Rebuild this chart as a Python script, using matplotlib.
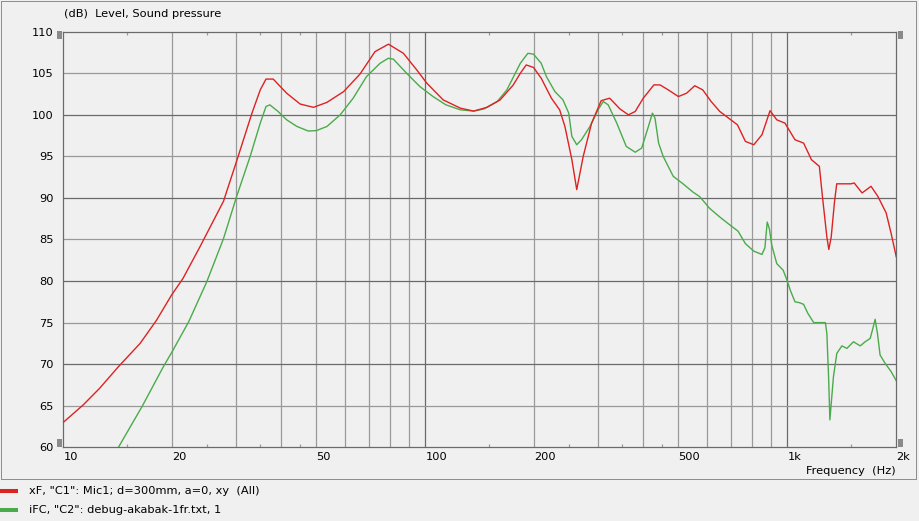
import matplotlib
matplotlib.use("Agg")
import matplotlib.pyplot as plt
from matplotlib.patches import Rectangle
from matplotlib.lines import Line2D
from matplotlib.ticker import FixedLocator, NullFormatter

# ---------------- data ----------------
freq_red = [10, 11.35, 12.6, 14.2, 16.3, 18.1, 19.9, 21.4, 23.9, 27.7, 30.1, 33.2, 35.0,
            36.3, 38.0, 41.4, 45.1, 49.1, 53.5, 59.5, 66, 72.6, 79.1, 87, 94.7, 101, 112, 125,
            136, 148, 161, 175, 183, 190, 199, 209, 223, 235, 243, 254, 262, 273, 288, 306,
            323, 345, 364, 380, 400, 428, 445, 469, 500, 527, 555, 584, 616, 651, 728, 766,
            808, 851, 896, 935, 985, 1050, 1109, 1166, 1226, 1250, 1286, 1302, 1322, 1349,
            1369, 1500, 1530, 1609, 1703, 1778, 1875, 1936, 2000]
db_red = [63.0, 65.1, 67.1, 69.7, 72.5, 75.3, 78.3, 80.3, 84.2, 89.6, 94.4, 100.2, 103.0,
          104.3, 104.3, 102.6, 101.3, 100.9, 101.5, 102.8, 104.9, 107.6, 108.5, 107.4, 105.4,
          103.8, 101.8, 100.8, 100.45, 100.9, 101.8, 103.6, 105.0, 106.0, 105.7, 104.4, 102.0,
          100.6, 98.6, 94.6, 91.0, 95.0, 99.0, 101.7, 102.0, 100.7, 100.0, 100.4, 102.0, 103.6,
          103.6, 103.0, 102.2, 102.6, 103.5, 103.0, 101.6, 100.4, 98.8, 96.8, 96.4, 97.6, 100.5,
          99.4, 99.0, 97.0, 96.6, 94.6, 93.8, 90.2, 85.3, 83.8, 85.3, 89.4, 91.7, 91.7, 91.8,
          90.6, 91.4, 90.2, 88.2, 85.7, 82.9]

freq_green = [14.2, 16.5, 18.9, 20.1, 22.2, 24.9, 27.7, 30.1, 32.8, 35.0, 36.3, 37.2, 39.2,
              41.4, 44.2, 47.5, 50, 53.5, 58.2, 63.2, 68.8, 75, 79, 81.6, 88.8, 96.6, 105, 114,
              125, 136, 145, 158, 168, 183, 192, 199, 209, 216, 228, 240, 249, 254, 262, 270,
              285, 300, 310, 320, 338, 359, 380, 396, 412, 424, 431, 441, 454, 484, 515, 549,
              573, 610, 651, 694, 731, 766, 808, 851, 867, 880, 892, 906, 935, 974, 1000, 1019,
              1050, 1080, 1109, 1140, 1183, 1274, 1286, 1300, 1311, 1320, 1341, 1370, 1415,
              1461, 1523, 1590, 1641, 1694, 1723, 1748, 1774, 1804, 1863, 1936, 2000]
db_green = [60.0, 64.9, 69.7, 71.7, 75.1, 79.9, 85.1, 90.15, 94.96, 99.0, 101.0, 101.2, 100.4,
            99.4, 98.6, 98.05, 98.1, 98.6, 100.0, 102.0, 104.6, 106.2, 106.8, 106.7, 105.0,
            103.4, 102.2, 101.2, 100.6, 100.45, 100.7, 101.6, 103.0, 106.2, 107.4, 107.3, 106.2,
            104.6, 102.8, 101.8, 100.2, 97.4, 96.4, 97.0, 98.6, 100.6, 101.6, 101.2, 99.0, 96.2,
            95.5, 96.0, 98.4, 100.2, 99.6, 96.6, 95.0, 92.6, 91.7, 90.7, 90.15, 88.75, 87.7,
            86.75, 86.0, 84.5, 83.6, 83.2, 84.0, 87.1, 86.3, 84.3, 82.1, 81.3, 80.0, 78.9, 77.5,
            77.4, 77.2, 76.1, 75.0, 75.0, 73.7, 68.5, 63.3, 64.9, 68.5, 71.3, 72.2, 71.9, 72.7,
            72.2, 72.7, 73.1, 74.3, 75.4, 73.7, 71.1, 70.1, 69.1, 68.0]

x_tick_values = [10, 20, 50, 100, 200, 500, 1000, 2000]
x_tick_labels = ["10", "20", "50", "100", "200", "500", "1k", "2k"]
y_tick_values = [60, 65, 70, 75, 80, 85, 90, 95, 100, 105, 110]
y_tick_labels = [str(v) for v in y_tick_values]

series_labels = ['xF, "C1": Mic1; d=300mm, a=0, xy  (All)',
                 'iFC, "C2": debug-akabak-1fr.txt, 1']

# ---------------- style ----------------
W, H = 919, 521
BG = "#f0f0f0"
RED = "#dd2222"
GREEN = "#4aab4a"
DARK = "#6a6a6a"
LIGHT = "#999999"
FS = 8.2
plt.rcParams["font.family"] = ["DejaVu Sans"]

def fx(px):
    return px / W

def fy(py):
    return 1 - py / H

fig = plt.figure(figsize=(W / 100, H / 100), dpi=100, facecolor=BG)
L, R, T, B = 63.3, 896.3, 31.7, 447.3
ax = fig.add_axes([fx(L), fy(B), fx(R) - fx(L), fy(T) - fy(B)])
ax.set_facecolor(BG)
ax.set_xscale("log")
ax.set_xlim(10, 2000)
ax.set_ylim(60, 110)

# grid
for f in [20, 30, 40, 50, 60, 70, 80, 90, 200, 300, 400, 500, 600, 700, 800, 900]:
    ax.axvline(f, color=LIGHT, lw=0.9, zorder=1)
for f in [100, 1000]:
    ax.axvline(f, color=DARK, lw=0.9, zorder=1)
for v in [65, 75, 85, 95, 105]:
    ax.axhline(v, color=LIGHT, lw=0.9, zorder=1)
for v in [70, 80, 90, 100]:
    ax.axhline(v, color=DARK, lw=0.9, zorder=1)

ax.plot(freq_red, db_red, color=RED, lw=1.0, zorder=3)
ax.plot(freq_green, db_green, color=GREEN, lw=1.0, zorder=2)

for s in ax.spines.values():
    s.set_color(DARK)
    s.set_linewidth(0.9)

ax.set_xticks(x_tick_values)
ax.set_xticklabels(x_tick_labels)
ax.xaxis.set_minor_locator(FixedLocator([15, 25, 35, 45, 150, 250, 350, 450, 1500]))
ax.xaxis.set_minor_formatter(NullFormatter())
ax.tick_params(axis="x", which="major", length=0, pad=3.6, labelsize=FS, colors="black")
ax.tick_params(axis="x", which="minor", direction="in", length=2.5, width=0.9,
               color=LIGHT, top=True, bottom=True)
for lab in ax.get_xticklabels():
    lab.set_ha("left")
ax.set_yticks(y_tick_values)
ax.set_yticklabels(y_tick_labels)
ax.yaxis.set_minor_locator(FixedLocator([]))
ax.tick_params(axis="y", which="major", length=0, pad=7.2, labelsize=FS, colors="black")

# texts
fig.text(fx(63.5), fy(14), "(dB)  Level, Sound pressure", fontsize=FS, ha="left", va="center")
fig.text(fx(896), fy(471), "Frequency  (Hz)", fontsize=FS, ha="right", va="center")

# scroll handles
for (x0, y0, w, h) in [(57.3, 31, 4.7, 8.3), (57.3, 439, 4.7, 8.3),
                       (898.3, 31, 4.7, 8.3), (898.3, 439, 4.7, 8.3)]:
    fig.add_artist(Rectangle((fx(x0), fy(y0 + h)), w / W, h / H, transform=fig.transFigure,
                             facecolor="#8a8a8a", edgecolor="none"))

# dotted frame
fig.add_artist(Rectangle((fx(0.5), fy(479)), (916 - 0.5) / W, (479 - 1) / H,
                         transform=fig.transFigure, fill=False, edgecolor="#303030",
                         lw=0.72, linestyle=(0, (1, 1))))

# legend
for yy, col, lab in [(491.3, RED, series_labels[0]), (510.3, GREEN, series_labels[1])]:
    fig.add_artist(Line2D([fx(0), fx(18)], [fy(yy), fy(yy)], transform=fig.transFigure,
                          color=col, lw=2.9, solid_capstyle="butt"))
    fig.text(fx(29), fy(yy), lab, fontsize=FS, ha="left", va="center")

fig.savefig("out.png", dpi=100, facecolor=BG)
